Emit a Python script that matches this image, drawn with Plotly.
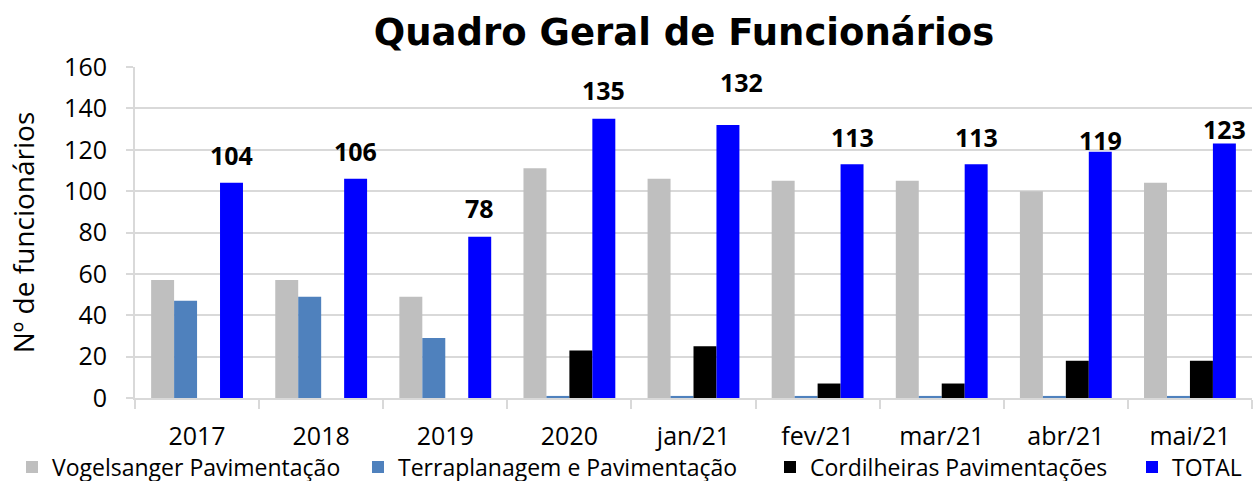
import plotly.graph_objects as go

categories = ["2017", "2018", "2019", "2020", "jan/21", "fev/21", "mar/21", "abr/21", "mai/21"]
vogelsanger = [57, 57, 49, 111, 106, 105, 105, 100, 104]
terraplanagem = [47, 49, 29, 1, 1, 1, 1, 1, 1]
cordilheiras = [0, 0, 0, 23, 25, 7, 7, 18, 18]
total = [104, 106, 78, 135, 132, 113, 113, 119, 123]

series_names = ["Vogelsanger Pavimentação", "Terraplanagem e Pavimentação",
                "Cordilheiras Pavimentações", "TOTAL"]
colors = ["#BFBFBF", "#4F81BD", "#000000", "#0000FF"]

# layout / style parameters
W, H = 1255, 481
ML, MR, MT, MB = 135, 3, 67, 83
BARGAP = 0.26
FONT = "Open Sans"
legend_widths = [301, 367, 317, 70]                  # px per legend entry text slot
label_lift = [28, 28, 29, 29, 43, 27, 27, 12, 15]   # px above bar top
label_nudge = [0, 0, 0, 0, 14, 0, 0, 0, 0]          # px right

fig = go.Figure()
for name, vals, col, lw in zip(series_names, [vogelsanger, terraplanagem, cordilheiras, total],
                               colors, legend_widths):
    fig.add_trace(go.Bar(
        x=categories, y=vals, name=name, legendwidth=lw,
        marker=dict(color=col, line=dict(width=0)),
    ))

plot_w = W - ML - MR
plot_h = H - MT - MB
cat_w = plot_w / len(categories)
bar_w = (1 - BARGAP) / 4 * cat_w
total_shift = 1.5 * bar_w

for i, v in enumerate(total):
    fig.add_annotation(
        x=i, y=v, xref="x", yref="y", text=f"<b>{v}</b>", showarrow=False,
        xshift=total_shift + label_nudge[i], yshift=label_lift[i], yanchor="middle",
        font=dict(family=FONT, size=25, color="#000000"),
    )

fig.update_layout(
    width=W, height=H,
    margin=dict(l=ML, r=MR, t=MT, b=MB, autoexpand=False),
    paper_bgcolor="white", plot_bgcolor="white",
    barmode="group", bargap=BARGAP, bargroupgap=0,
    title=dict(text="<b>Quadro Geral de Funcionários</b>", x=684 / W, xref="container",
               xanchor="center", y=1 - 32 / H, yref="container", yanchor="middle",
               font=dict(family="DejaVu Sans", size=37, color="#000000")),
    font=dict(family=FONT, color="#000000"),
    showlegend=True,
    legend=dict(orientation="h", x=(12 - ML) / plot_w, xref="paper", xanchor="left",
                y=-(467 - (H - MB)) / plot_h, yref="paper", yanchor="middle",
                font=dict(family=FONT, size=23, color="#000000"),
                itemwidth=30, tracegroupgap=0, traceorder="normal",
                bgcolor="rgba(0,0,0,0)", borderwidth=0),
)
fig.update_xaxes(
    type="category", categoryorder="array", categoryarray=categories,
    range=[-0.5, len(categories) - 0.5],
    showgrid=False, showline=True, linecolor="#D9D9D9", linewidth=2,
    ticks="outside", tickson="boundaries", ticklen=9, tickcolor="#D9D9D9", tickwidth=2,
    tickfont=dict(family=FONT, size=25, color="#000000"), ticklabelstandoff=15,
    tickangle=0,
)
fig.update_yaxes(
    range=[0, 160], dtick=20, showgrid=True, gridcolor="#D9D9D9", gridwidth=2,
    showline=True, linecolor="#D9D9D9", linewidth=2, zeroline=False,
    ticks="outside", ticklen=7, tickcolor="#D9D9D9", tickwidth=2,
    tickfont=dict(family=FONT, size=25, color="#000000"), ticklabelstandoff=14,
    title=dict(text="Nº de funcionários", font=dict(family=FONT, size=28, color="#000000"),
               standoff=21),
)

fig.write_html("out.html", config={"displayModeBar": False},
               post_script="document.body.style.margin='0px';")
